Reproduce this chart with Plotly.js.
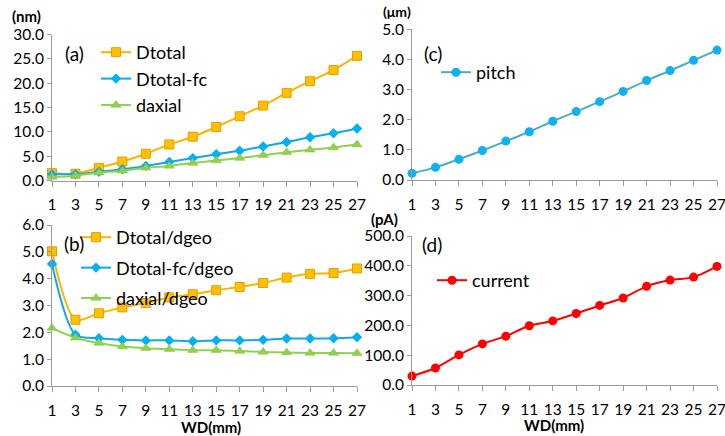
<!DOCTYPE html>
<html>
<head>
<meta charset="utf-8">
<script src="https://cdn.plot.ly/plotly-3.0.1.min.js"></script>
<style>html,body{margin:0;padding:0;background:#fff;}#chart{width:725px;height:436px;}</style>
</head>
<body>
<div id="chart"></div>
<script>
// WD (mm)
const wd = [1, 3, 5, 7, 9, 11, 13, 15, 17, 19, 21, 23, 25, 27];
const xTicks = [1, 3, 5, 7, 9, 11, 13, 15, 17, 19, 21, 23, 25, 27];

// (a) nm
const dtotal   = [1.5, 1.4, 2.6, 3.9, 5.5, 7.4, 9.0, 11.0, 13.2, 15.4, 18.0, 20.4, 22.7, 25.6];
const dtotalFc = [1.3, 1.3, 1.8, 2.3, 3.0, 3.8, 4.6, 5.4, 6.1, 7.0, 7.9, 8.9, 9.7, 10.7];
const daxial   = [0.7, 1.0, 1.6, 2.0, 2.6, 3.0, 3.6, 4.1, 4.6, 5.2, 5.8, 6.3, 6.8, 7.4];

// (b) ratios
const dtotalRatio   = [5.02, 2.47, 2.71, 2.93, 3.09, 3.30, 3.42, 3.57, 3.69, 3.84, 4.04, 4.18, 4.21, 4.38];
const dtotalFcRatio = [4.55, 1.91, 1.78, 1.72, 1.70, 1.70, 1.67, 1.70, 1.70, 1.72, 1.77, 1.77, 1.78, 1.82];
const daxialRatio   = [2.16, 1.80, 1.60, 1.47, 1.41, 1.37, 1.33, 1.33, 1.30, 1.27, 1.25, 1.23, 1.23, 1.22];

// (c) pitch (um)
const pitch = [0.22, 0.42, 0.69, 0.98, 1.29, 1.60, 1.95, 2.27, 2.60, 2.94, 3.30, 3.63, 3.97, 4.31];

// (d) current (pA)
const current = [30, 57, 101, 138, 164, 199, 215, 240, 267, 292, 331, 352, 362, 398];

const FONT = 'Lato, Carlito, Calibri, "Open Sans", sans-serif';
const W = 725, H = 436;
const px = v => v / W;
const py = v => 1 - v / H;

const ORANGE = '#FFC000', BLUE = '#00B0F0', GREEN = '#92D050';

function tr(y, name, xa, ya, leg, group, opts) {
  return Object.assign({
    x: wd, y: y, name: name, xaxis: xa, yaxis: ya, legend: leg, legendgroup: group,
    type: 'scatter', mode: 'lines+markers', cliponaxis: false
  }, opts);
}
const ln = c => ({shape: 'spline', smoothing: 0.8, width: 2, color: c});

const traces = [
  tr(dtotal, 'Dtotal', 'x', 'y', 'legend', 'a1', {line: ln('#F7B500'), marker:{symbol:'square',size:9,color:ORANGE,line:{color:'#E39F00',width:1}}}),
  tr(dtotalFc, 'Dtotal-fc', 'x', 'y', 'legend', 'a2', {line: ln('#14A6E6'), marker:{symbol:'diamond',size:8,color:BLUE}}),
  tr(daxial, 'daxial', 'x', 'y', 'legend', 'a3', {line: ln(GREEN), marker:{symbol:'triangle-up',size:9,color:GREEN,line:{color:'#86C044',width:0.5}}}),

  tr(dtotalRatio, 'Dtotal/dgeo', 'x2', 'y2', 'legend2', 'b1', {line: ln('#F7B500'), marker:{symbol:'square',size:9,color:ORANGE,line:{color:'#E39F00',width:1}}}),
  tr(dtotalFcRatio, 'Dtotal-fc/dgeo', 'x2', 'y2', 'legend2', 'b2', {line: ln('#14A6E6'), marker:{symbol:'diamond',size:8,color:BLUE}}),
  tr(daxialRatio, 'daxial/dgeo', 'x2', 'y2', 'legend2', 'b3', {line: ln(GREEN), marker:{symbol:'triangle-up',size:9,color:GREEN,line:{color:'#86C044',width:0.5}}}),

  tr(pitch, 'pitch', 'x3', 'y3', 'legend3', 'c1', {line: ln('#4BACC6'), marker:{symbol:'circle',size:9,color:'#12B0EE'}}),
  tr(current, 'current', 'x4', 'y4', 'legend4', 'd1', {line: ln('#FF0000'), marker:{symbol:'circle',size:9,color:'#FF0000'}})
];

function xax(domain, anchor) {
  return {domain: domain, anchor: anchor, range: [1, 27], tickvals: xTicks, ticktext: xTicks.map(String),
    showgrid: false, zeroline: false, showline: true, linecolor: '#9A9A9A', linewidth: 1,
    ticks: 'outside', ticklen: 5, tickcolor: '#9A9A9A', ticklabelstandoff: 5, ticklabeloverflow: 'allow',
    tickfont: {family: FONT, size: 15.5, color: '#000'}, fixedrange: true};
}
function yax(domain, anchor, range, dtick) {
  return {domain: domain, anchor: anchor, range: range, dtick: dtick, tick0: 0, tickformat: '.1f',
    showgrid: false, zeroline: false, showline: true, linecolor: '#9A9A9A', linewidth: 1,
    ticks: 'outside', ticklen: 4, tickcolor: '#9A9A9A', ticklabelstandoff: 0, ticklabeloverflow: 'allow',
    tickfont: {family: FONT, size: 15.5, color: '#000'}, fixedrange: true};
}

const xL = [px(52), px(357)], xR = [px(412), px(717)];

function leg(x, y, gap) {
  return {x: x, y: y, xanchor: 'left', yanchor: 'top', bgcolor: 'rgba(0,0,0,0)', borderwidth: 0,
    font: {family: FONT, size: 18, color: '#000'}, itemwidth: 30, tracegroupgap: gap, traceorder: 'grouped'};
}

const ann = (text, x, y, size, bold, xanchor) => ({
  text: bold ? '<b>' + text + '</b>' : text, x: px(x), y: py(y), xref: 'paper', yref: 'paper',
  xanchor: xanchor || 'center', yanchor: 'middle', showarrow: false,
  font: {family: FONT, size: size, color: '#000'}
});

const layout = {
  width: W, height: H, margin: {l: 0, r: 0, t: 0, b: 0},
  paper_bgcolor: '#fff', plot_bgcolor: '#fff', showlegend: true,
  font: {family: FONT},
  xaxis: xax(xL, 'y'),
  yaxis: yax([py(180.5), py(34.5)], 'x', [0, 30], 5),
  xaxis2: xax(xL, 'y2'),
  yaxis2: yax([py(386), py(225)], 'x2', [0, 6], 1),
  xaxis3: xax(xR, 'y3'),
  yaxis3: yax([py(180), py(29.3)], 'x3', [0, 5], 1),
  xaxis4: xax(xR, 'y4'),
  yaxis4: yax([py(385), py(236)], 'x4', [0, 500], 100),
  legend: leg(px(96), py(34), 0),
  legend2: leg(px(76), py(219), 4),
  legend3: leg(px(436), py(54), 0),
  legend4: leg(px(432), py(262), 0),
  annotations: [
    ann('(nm)', 27, 16, 15, true),
    ann('(μm)', 397, 11, 14, true),
    ann('(pA)', 384, 219, 15, true),
    ann('(a)', 74, 53, 19, false),
    ann('(b)', 74, 243, 19, false),
    ann('(c)', 433, 53, 19, false),
    ann('(d)', 432, 244, 19, false),
    ann('WD(mm)', 211, 427, 15, true),
    ann('WD(mm)', 554, 425, 15, true)
  ]
};

Plotly.newPlot('chart', traces, layout, {staticPlot: true, displayModeBar: false});
</script>
</body>
</html>
